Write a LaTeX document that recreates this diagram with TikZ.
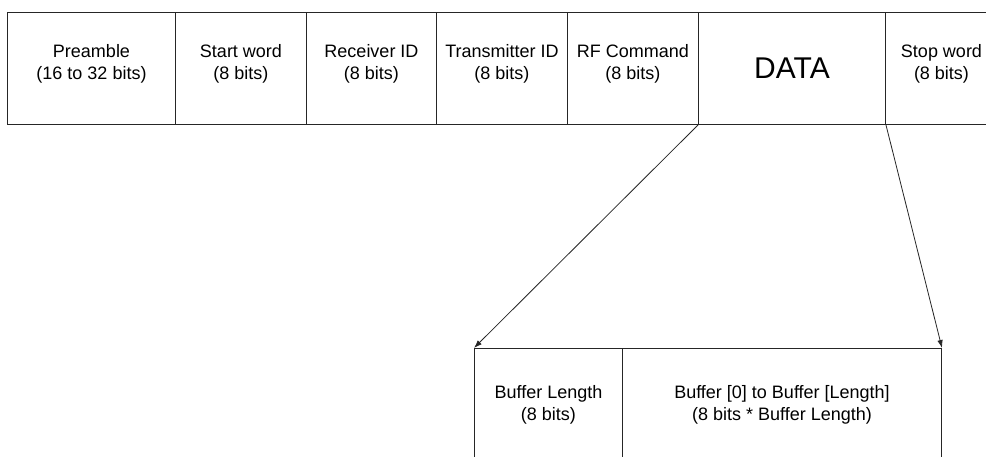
\documentclass[tikz,border=0pt]{standalone}
\usepackage{fontspec}
\setmainfont{Liberation Sans}
\usetikzlibrary{arrows.meta}
\begin{document}
\begin{tikzpicture}[x=1pt,y=-1pt,
  cell/.style={draw=black!85, line width=1pt, minimum height=112pt, inner sep=0pt, anchor=north west},
  txt/.style={align=center, font=\fontsize{18}{22}\selectfont, inner sep=0pt},
  big/.style={font=\fontsize{30}{34}\selectfont, inner sep=0pt},
  arr/.style={draw=black!85, line width=0.8pt, -{Latex[length=8pt,width=5.5pt]}}]
\useasboundingbox (0,0) rectangle (986,456);
\clip (0,0) rectangle (986,456);
\fill[white] (0,0) rectangle (986,456);
% top frame
\node[cell, minimum width=168pt] (pre) at (7,12) {};
\node[cell, minimum width=131pt] (start) at (175,12) {};
\node[cell, minimum width=130pt] (recv) at (306,12) {};
\node[cell, minimum width=131pt] (trans) at (436,12) {};
\node[cell, minimum width=131pt] (rf) at (567,12) {};
\node[cell, minimum width=187pt] (data) at (698,12) {};
\node[cell, minimum width=112pt] (stop) at (885,12) {};
\node[txt, yshift=4.5pt] (preT) at (pre.center) {Preamble\\(16 to 32 bits)};
\node[txt, yshift=4.5pt] (startT) at (start.center) {Start word\\(8 bits)};
\node[txt, yshift=4.5pt] (recvT) at (recv.center) {Receiver ID\\(8 bits)};
\node[txt, yshift=4.5pt] (transT) at (trans.center) {Transmitter ID\\(8 bits)};
\node[txt, yshift=4.5pt] (rfT) at (rf.center) {RF Command\\(8 bits)};
\node[big] (dataT) at (data.center) {DATA};
\node[txt, yshift=4.5pt] (stopT) at (stop.center) {Stop word\\(8 bits)};
% bottom frame
\node[cell, minimum width=148pt] (blen) at (474,348) {};
\node[cell, minimum width=319pt] (buf) at (622,348) {};
\node[txt] (blenT) at (blen.center) {Buffer Length\\(8 bits)};
\node[txt] (bufT) at (buf.center) {Buffer [0] to Buffer [Length]\\(8 bits * Buffer Length)};
% connectors
\draw[arr] (data.south west) -- (blen.north west);
\draw[arr] (data.south east) -- (buf.north east);
\end{tikzpicture}
\end{document}
